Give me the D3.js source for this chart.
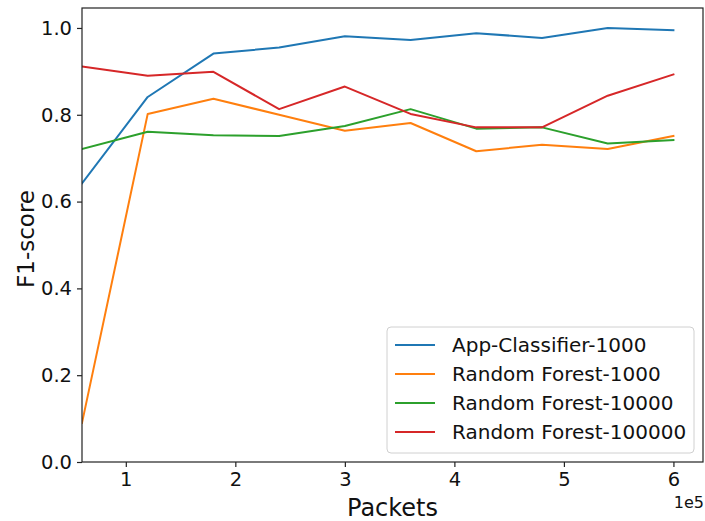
<!DOCTYPE html>
<html>
<head>
<meta charset="utf-8">
<script src="https://cdn.jsdelivr.net/npm/d3@7"></script>
<style>
  html, body { margin: 0; padding: 0; background: #fff; }
  svg { display: block; font-family: "DejaVu Sans", sans-serif; }
</style>
</head>
<body>
<svg id="chart" width="705" height="521"></svg>
<script>
// Packets (x 1e5)
const packets = [0.6, 1.2, 1.8, 2.4, 3.0, 3.6, 4.2, 4.8, 5.4, 6.0];
const seriesNames = ["App-Classifier-1000", "Random Forest-1000", "Random Forest-10000", "Random Forest-100000"];
const appClassifier1000 = [0.642, 0.841, 0.941, 0.955, 0.981, 0.972, 0.988, 0.977, 1.0, 0.995];
const randomForest1000 = [0.090, 0.802, 0.837, 0.800, 0.763, 0.781, 0.716, 0.731, 0.721, 0.751];
const randomForest10000 = [0.721, 0.761, 0.753, 0.751, 0.774, 0.813, 0.768, 0.771, 0.734, 0.742];
const randomForest100000 = [0.911, 0.890, 0.899, 0.813, 0.865, 0.802, 0.771, 0.771, 0.844, 0.893];
const colors = ["#1f77b4", "#ff7f0e", "#2ca02c", "#d62728"];
const xTicks = [1, 2, 3, 4, 5, 6];
const yTicks = [0.0, 0.2, 0.4, 0.6, 0.8, 1.0];

const allSeries = [appClassifier1000, randomForest1000, randomForest10000, randomForest100000];

const svg = d3.select("#chart");
const m = { left: 82, right: 703, top: 8, bottom: 462 };

const x = d3.scaleLinear().domain([0.6, 6.27]).range([m.left, m.right]);
const y = d3.scaleLinear().domain([0, 1.046]).range([m.bottom, m.top]);

// lines
svg.append("clipPath").attr("id", "clip")
  .append("rect").attr("x", m.left).attr("y", m.top)
  .attr("width", m.right - m.left).attr("height", m.bottom - m.top);

const line = d3.line().x(d => x(d[0])).y(d => y(d[1]));
const g = svg.append("g").attr("clip-path", "url(#clip)");
allSeries.forEach((vals, i) => {
  g.append("path")
    .datum(packets.map((p, j) => [p, vals[j]]))
    .attr("fill", "none")
    .attr("stroke", colors[i])
    .attr("stroke-width", 2)
    .attr("stroke-linejoin", "round")
    .attr("stroke-linecap", "square")
    .attr("d", line);
});

// axes
const xAxis = svg.append("g").attr("transform", `translate(0,${m.bottom})`)
  .call(d3.axisBottom(x).tickValues(xTicks).tickFormat(d3.format("d")).tickSize(5).tickPadding(5).tickSizeOuter(0));
const yAxis = svg.append("g").attr("transform", `translate(${m.left},0)`)
  .call(d3.axisLeft(y).tickValues(yTicks).tickFormat(d3.format(".1f")).tickSize(5).tickPadding(5).tickSizeOuter(0));
[xAxis, yAxis].forEach(a => {
  a.select(".domain").remove();
  a.selectAll(".tick line").attr("stroke", "#222").attr("stroke-width", 1.2);
  a.selectAll(".tick text").attr("fill", "#111").style("font-size", "19.5px").style("font-family", "DejaVu Sans");
});

// frame
svg.append("rect")
  .attr("x", m.left).attr("y", m.top)
  .attr("width", m.right - m.left).attr("height", m.bottom - m.top)
  .attr("fill", "none").attr("stroke", "#222").attr("stroke-width", 1.2);

// axis labels
svg.append("text").attr("x", (m.left + m.right) / 2).attr("y", 516)
  .attr("text-anchor", "middle").style("font-size", "24px").attr("fill", "#111").text("Packets");
svg.append("text").attr("transform", `translate(34,${(m.top + m.bottom) / 2 + 4}) rotate(-90)`)
  .attr("text-anchor", "middle").style("font-size", "23px").attr("fill", "#111").text("F1-score");
svg.append("text").attr("x", m.right + 1).attr("y", 508)
  .attr("text-anchor", "end").style("font-size", "16px").attr("fill", "#111").text("1e5");

// legend
const lg = svg.append("g");
lg.append("rect").attr("x", 387).attr("y", 327).attr("width", 307).attr("height", 126)
  .attr("rx", 4).attr("fill", "#fff").attr("fill-opacity", 0.8)
  .attr("stroke", "#d0d0d0").attr("stroke-width", 1);
seriesNames.forEach((name, i) => {
  const cy = 345 + i * 29;
  lg.append("line").attr("x1", 395).attr("x2", 435).attr("y1", cy).attr("y2", cy)
    .attr("stroke", colors[i]).attr("stroke-width", 2);
  lg.append("text").attr("x", 452).attr("y", cy).attr("dy", "0.35em")
    .style("font-size", "20px").attr("fill", "#111").text(name);
});
</script>
</body>
</html>
